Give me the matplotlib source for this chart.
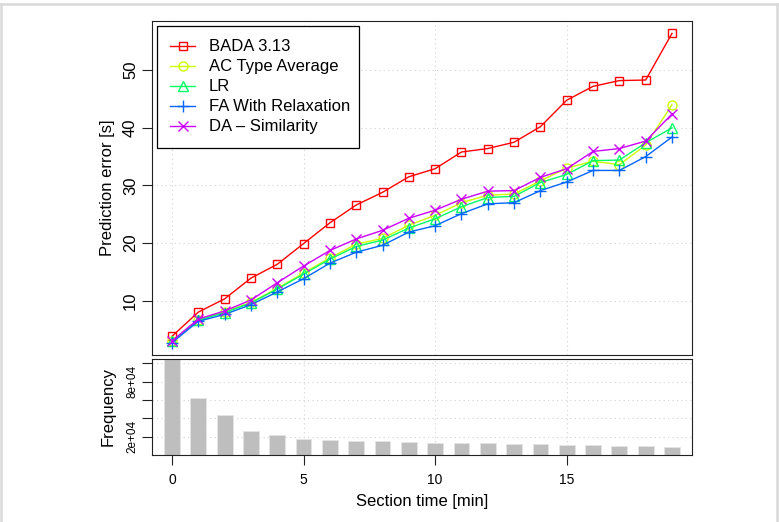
import matplotlib
matplotlib.use("Agg")
import matplotlib.pyplot as plt
from matplotlib.lines import Line2D

plt.rcParams["font.family"] = ["Liberation Sans", "DejaVu Sans"]

# Section time [min]
section_min = list(range(20))

# Prediction error [s] per method
bada_313 = [3.8, 8.0, 10.3, 13.9, 16.3, 19.9, 23.5, 26.6, 28.8, 31.5,
            32.9, 35.8, 36.4, 37.5, 40.2, 44.8, 47.2, 48.2, 48.3, 56.4]
ac_type_avg = [2.9, 6.7, 8.0, 9.7, 12.1, 14.8, 17.4, 19.8, 20.8, 23.1,
               24.8, 27.0, 28.3, 28.5, 30.8, 33.0, 34.2, 33.6, 37.0, 44.0]
lr = [2.9, 6.6, 7.9, 9.6, 12.0, 14.6, 17.2, 19.4, 20.5, 22.6,
      24.2, 26.3, 27.9, 28.1, 30.5, 31.9, 34.3, 34.4, 37.4, 40.0]
fa_relax = [2.7, 6.4, 7.6, 9.3, 11.5, 13.8, 16.5, 18.4, 19.6, 21.9,
            23.0, 25.1, 26.8, 27.0, 29.1, 30.6, 32.6, 32.6, 35.0, 38.4]
da_similarity = [3.0, 6.8, 8.2, 10.1, 13.1, 16.0, 18.7, 20.7, 22.2, 24.3,
                 25.7, 27.6, 29.0, 29.1, 31.4, 32.9, 35.9, 36.4, 37.7, 42.4]

series_names = ["BADA 3.13", "AC Type Average", "LR",
                "FA With Relaxation", "DA \u2013 Similarity"]
series_values = [bada_313, ac_type_avg, lr, fa_relax, da_similarity]

# Number of sections per section time
frequency = [120000, 62200, 44000, 26500, 21500, 17100, 16000, 14900, 14900, 13800,
             13100, 12700, 12700, 12000, 11600, 10900, 10500, 9800, 9500, 9100]
freq_ticks = [20000, 40000, 60000, 80000, 100000]
freq_ticklabels = ["2e+04", "", "", "8e+04", ""]
x_ticks = [0, 5, 10, 15]

colors = ["#FF0000", "#CCFF00", "#00FF66", "#0066FF", "#CC00FF"]
markers = ["s", "o", "^", "+", "x"]
msizes = [6.0, 6.5, 7.5, 9, 7]

W, H = 779, 522
fig = plt.figure(figsize=(W / 100, H / 100), dpi=100)


def px_rect(l, t, r, b):
    return [l / W, 1 - b / H, (r - l) / W, (b - t) / H]


ax = fig.add_axes(px_rect(152, 21, 692, 355))
ax2 = fig.add_axes(px_rect(152, 359, 692, 455))

spine_c = "#222222"
grid_kw = dict(color="#d3d3d3", linestyle=(0, (1, 3)), linewidth=0.8)

# Upper panel: prediction error curves
for name, vals, c, m, ms in zip(series_names, series_values, colors, markers, msizes):
    ax.plot(section_min, vals, color=c, lw=1.0, marker=m, ms=ms,
            mfc="none", mec=c, mew=1.0, label=name)

xpad = 0.04 * (max(section_min) - min(section_min))
xlim = (min(section_min) - xpad, max(section_min) + xpad)
all_vals = [v for s in series_values for v in s]
ypad = 0.04 * (max(all_vals) - min(all_vals))
ax.set_xlim(*xlim)
ax.set_ylim(min(all_vals) - ypad, max(all_vals) + ypad)
ax.set_xticks(x_ticks)
ax.set_yticks([10, 20, 30, 40, 50])
ax.tick_params(axis="x", length=0, labelbottom=False)
ax.tick_params(axis="y", length=7, width=0.8, color=spine_c, pad=3, labelsize=12)
for lab in ax.get_yticklabels():
    lab.set_rotation(90)
    lab.set_va("center")
ax.grid(True, **grid_kw)
ax.set_axisbelow(True)
for s in ax.spines.values():
    s.set_color(spine_c)
    s.set_linewidth(0.8)
ax.set_ylabel("Prediction error [s]", fontsize=12)
ax.yaxis.set_label_coords(-0.068, 0.5)

leg = ax.legend(loc="upper left", bbox_to_anchor=(0.009, 0.985, 0.374, 0.0),
                mode="expand", fontsize=12, frameon=True, fancybox=False,
                edgecolor="black", framealpha=1, borderaxespad=0,
                handlelength=1.5, handletextpad=0.8, labelspacing=0.3,
                borderpad=0.8, numpoints=1)
leg.get_frame().set_linewidth(0.9)

# Lower panel: frequency bars
ax2.bar(section_min, frequency, width=0.6, color="#bebebe",
        edgecolor="#e4e4e4", linewidth=0.6, zorder=2)
ax2.set_xlim(*xlim)
ax2.set_ylim(0, 104700)
ax2.set_xticks(x_ticks)
ax2.set_yticks(freq_ticks)
ax2.set_yticklabels(freq_ticklabels, rotation=90, va="center", fontsize=8.5)
ax2.tick_params(axis="x", length=7, width=0.8, color=spine_c, pad=6, labelsize=10)
ax2.tick_params(axis="y", length=7, width=0.8, color=spine_c, pad=3)
ax2.grid(True, **grid_kw)
ax2.set_axisbelow(True)
for s in ax2.spines.values():
    s.set_color(spine_c)
    s.set_linewidth(0.8)
ax2.set_ylabel("Frequency", fontsize=12)
ax2.yaxis.set_label_coords(-0.068, 0.5)
ax2.set_xlabel("Section time [min]", fontsize=12)
ax2.xaxis.set_label_coords(0.5, -0.48)
ax2.xaxis.label.set_va("center")

# Light frame around the figure
frame_c = "#d9d9d9"
for (x0, y0, x1, y1) in [(0, 3.5, W, 3.5), (776.5, 3.5, 776.5, H), (0.8, 3.5, 0.8, H)]:
    fig.add_artist(Line2D([x0 / W, x1 / W], [1 - y0 / H, 1 - y1 / H],
                          transform=fig.transFigure, color=frame_c, lw=1.8))

fig.savefig("out.png", dpi=100)
